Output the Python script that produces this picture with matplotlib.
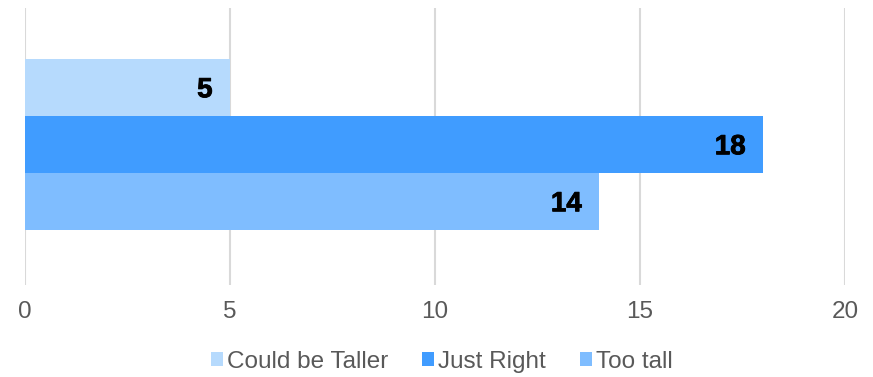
import matplotlib
matplotlib.use("Agg")
import matplotlib.pyplot as plt
import matplotlib.patheffects as pe
from matplotlib.patches import Patch

plt.rcParams['font.family'] = ['Liberation Sans', 'DejaVu Sans']

series = ["Could be Taller", "Just Right", "Too tall"]
values = [5, 18, 14]
colors = ["#B6DAFD", "#409CFF", "#7FBDFF"]
x_ticks = [0, 5, 10, 15, 20]

fig = plt.figure(figsize=(8.73, 3.77), dpi=100)
ax = fig.add_axes([25 / 873, 1 - 285 / 377, 820 / 873, 277 / 377])

positions = [1, 0, -1]
for pos, val, col in zip(positions, values, colors):
    ax.barh(pos, val, height=1.0, color=col, zorder=2)
    ax.annotate(str(val), xy=(val, pos), xytext=(-12.5, -2), textcoords="offset points",
                ha="right", va="center", fontsize=20, fontweight="bold", color="black",
                zorder=3, path_effects=[pe.withStroke(linewidth=0.6, foreground="black")])

ax.set_xlim(0, 20)
ax.set_ylim(-2.465, 2.395)
ax.set_xticks(x_ticks)
ax.set_xticklabels([str(t) for t in x_ticks], fontsize=17.5, color="#595959")
ax.set_yticks([])
ax.tick_params(axis="x", length=0, pad=11.5)
ax.grid(axis="x", color="#D9D9D9", linewidth=1.5, zorder=0)
for s in ax.spines.values():
    s.set_visible(False)

handles = [Patch(facecolor=c, edgecolor="none") for c in colors]
fig.legend(handles, series, loc="center", bbox_to_anchor=(0.506, 1 - 362 / 377),
           ncol=3, frameon=False, fontsize=17.5, labelcolor="#595959",
           handlelength=0.5, handleheight=0.5, handletextpad=0.15, columnspacing=1.4)

fig.savefig("out.png", dpi=100)
